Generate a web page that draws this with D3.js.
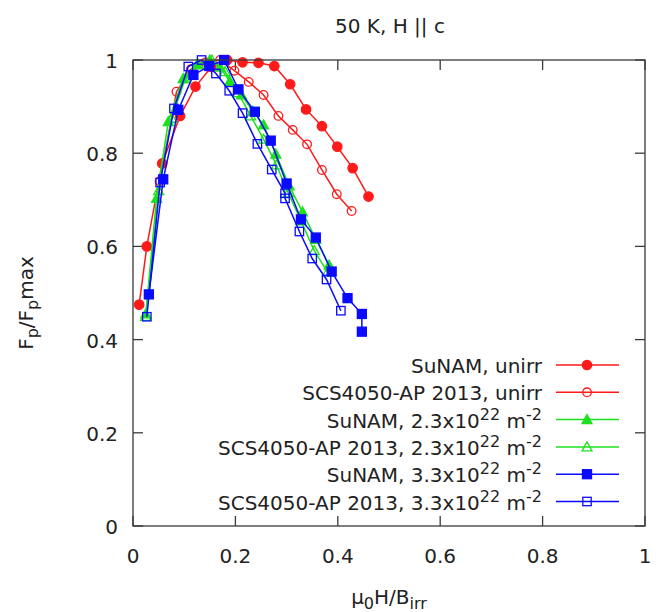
<!DOCTYPE html>
<html>
<head>
<meta charset="utf-8">
<script src="https://cdn.jsdelivr.net/npm/d3@7/dist/d3.min.js"></script>
<style>
  html, body { margin: 0; padding: 0; background: #fff; }
  svg { display: block; font-family: "DejaVu Sans", Verdana, sans-serif; }
</style>
</head>
<body>
<svg id="chart" width="667" height="612"></svg>
<script>
// ---- data ----
const xTicks = [0, 0.2, 0.4, 0.6, 0.8, 1];
const yTicks = [0, 0.2, 0.4, 0.6, 0.8, 1];
const xTickLabels = ["0", "0.2", "0.4", "0.6", "0.8", "1"];
const yTickLabels = ["0", "0.2", "0.4", "0.6", "0.8", "1"];

const sunamUnirrX = [0.012, 0.027, 0.057, 0.092, 0.122, 0.153, 0.184, 0.214, 0.245, 0.276, 0.307, 0.338, 0.369, 0.399, 0.429, 0.460];
const sunamUnirrY = [0.475, 0.600, 0.778, 0.880, 0.943, 0.985, 1.000, 0.995, 0.994, 0.987, 0.948, 0.894, 0.858, 0.814, 0.768, 0.707];

const scsUnirrX = [0.052, 0.085, 0.113, 0.142, 0.170, 0.198, 0.226, 0.255, 0.284, 0.312, 0.340, 0.369, 0.398, 0.427];
const scsUnirrY = [0.740, 0.932, 0.980, 0.995, 1.000, 0.977, 0.953, 0.925, 0.880, 0.850, 0.819, 0.764, 0.712, 0.676];

const sunam23X = [0.025, 0.046, 0.069, 0.098, 0.125, 0.150, 0.170, 0.189, 0.212, 0.234, 0.255, 0.279, 0.305, 0.331, 0.357, 0.383];
const sunam23Y = [0.455, 0.703, 0.868, 0.960, 0.990, 1.000, 0.985, 0.954, 0.925, 0.890, 0.861, 0.798, 0.730, 0.674, 0.615, 0.560];

const scs23X = [0.025, 0.050, 0.0755, 0.102, 0.128, 0.154, 0.180, 0.205, 0.230, 0.255, 0.280, 0.303, 0.328, 0.354, 0.380];
const scs23Y = [0.450, 0.720, 0.875, 0.960, 0.990, 1.000, 0.975, 0.930, 0.880, 0.830, 0.775, 0.715, 0.655, 0.591, 0.545];

const sunam33X = [0.031, 0.059, 0.0885, 0.118, 0.149, 0.178, 0.206, 0.238, 0.269, 0.300, 0.328, 0.357, 0.388, 0.419, 0.447, 0.447];
const sunam33Y = [0.497, 0.744, 0.893, 0.968, 0.987, 1.000, 0.937, 0.889, 0.827, 0.735, 0.658, 0.619, 0.546, 0.489, 0.455, 0.417];

const scs33X = [0.027, 0.053, 0.080, 0.108, 0.134, 0.162, 0.188, 0.214, 0.243, 0.271, 0.297, 0.297, 0.325, 0.350, 0.378, 0.406];
const scs33Y = [0.449, 0.737, 0.896, 0.986, 1.000, 0.971, 0.934, 0.886, 0.820, 0.765, 0.714, 0.703, 0.632, 0.574, 0.529, 0.462];

const seriesNames = ["SuNAM, unirr", "SCS4050-AP 2013, unirr", "SuNAM, 2.3x10|22| m|-2", "SCS4050-AP 2013, 2.3x10|22| m|-2", "SuNAM, 3.3x10|22| m|-2", "SCS4050-AP 2013, 3.3x10|22| m|-2"];
const seriesColors = ["#ff1a1a", "#ff1a1a", "#1ee01e", "#1ee01e", "#0a0aff", "#0a0aff"];
const seriesShapes = ["circle", "circle", "triangle", "triangle", "square", "square"];
const seriesFilled = [true, false, true, false, true, false];
const seriesX = [sunamUnirrX, scsUnirrX, sunam23X, scs23X, sunam33X, scs33X];
const seriesY = [sunamUnirrY, scsUnirrY, sunam23Y, scs23Y, sunam33Y, scs33Y];

// ---- layout ----
const svg = d3.select("#chart");
const L = 133, R = 645, T = 60, B = 526;
const x = d3.scaleLinear().domain([0, 1]).range([L, R]);
const y = d3.scaleLinear().domain([0, 1]).range([B, T]);
const axisColor = "#3a3a3a";
const textColor = "#222";
const fs = 20;

// title
svg.append("text").attr("x", 390).attr("y", 33).attr("text-anchor", "middle")
  .attr("font-size", fs).attr("fill", textColor).text("50 K, H || c");

// ticks (inward, mirrored)
const gT = svg.append("g").attr("stroke", axisColor).attr("stroke-width", 1.3);
xTicks.forEach(v => {
  gT.append("line").attr("x1", x(v)).attr("x2", x(v)).attr("y1", B).attr("y2", B - 10);
  gT.append("line").attr("x1", x(v)).attr("x2", x(v)).attr("y1", T).attr("y2", T + 10);
});
yTicks.forEach(v => {
  gT.append("line").attr("x1", L).attr("x2", L + 10).attr("y1", y(v)).attr("y2", y(v));
  gT.append("line").attr("x1", R).attr("x2", R - 10).attr("y1", y(v)).attr("y2", y(v));
});

// tick labels
xTicks.forEach((v, i) => {
  svg.append("text").attr("x", x(v)).attr("y", B + 37).attr("text-anchor", "middle")
    .attr("font-size", fs).attr("fill", textColor).text(xTickLabels[i]);
});
yTicks.forEach((v, i) => {
  svg.append("text").attr("x", L - 15).attr("y", y(v) + 8).attr("text-anchor", "end")
    .attr("font-size", fs).attr("fill", textColor).text(yTickLabels[i]);
});

// axis labels
const xl = svg.append("text").attr("x", x(0.5)).attr("y", 604).attr("text-anchor", "middle")
  .attr("font-size", fs).attr("fill", textColor);
xl.append("tspan").text("μ");
xl.append("tspan").attr("font-size", fs * 0.8).attr("dy", 5).text("0");
xl.append("tspan").attr("dy", -5).text("H/B");
xl.append("tspan").attr("font-size", fs * 0.8).attr("dy", 5).text("irr");

const yl = svg.append("text").attr("transform", "translate(33,303) rotate(-90)")
  .attr("text-anchor", "middle").attr("font-size", fs).attr("fill", textColor);
yl.append("tspan").text("F");
yl.append("tspan").attr("font-size", fs * 0.8).attr("dy", 5).text("p");
yl.append("tspan").attr("dy", -5).text("/F");
yl.append("tspan").attr("font-size", fs * 0.8).attr("dy", 5).text("p");
yl.append("tspan").attr("dy", -5).text("max");

// markers
function drawMarker(g, shape, cx, cy, color, filled) {
  const fill = filled ? color : "none";
  if (shape === "circle") {
    g.append("circle").attr("cx", cx).attr("cy", cy).attr("r", filled ? 4.7 : 4.3)
      .attr("fill", fill).attr("stroke", color).attr("stroke-width", 1.3);
  } else if (shape === "square") {
    const s = filled ? 9 : 8.4;
    g.append("rect").attr("x", cx - s / 2).attr("y", cy - s / 2).attr("width", s).attr("height", s)
      .attr("fill", fill).attr("stroke", color).attr("stroke-width", 1.3);
  } else {
    const h = 5;
    g.append("path").attr("d", `M${cx},${cy - h}L${cx + h},${cy + h * 0.8}L${cx - h},${cy + h * 0.8}Z`)
      .attr("fill", fill).attr("stroke", color).attr("stroke-width", 1.3);
  }
}

// series
const line = d3.line().x(d => x(d[0])).y(d => y(d[1]));
const plotG = svg.append("g");
seriesNames.forEach((name, i) => {
  const pts = seriesX[i].map((v, k) => [v, seriesY[i][k]]);
  const g = plotG.append("g");
  g.append("path").datum(pts).attr("d", line).attr("fill", "none")
    .attr("stroke", seriesColors[i]).attr("stroke-width", 1.5);
  pts.forEach(p => drawMarker(g, seriesShapes[i], x(p[0]), y(p[1]), seriesColors[i], seriesFilled[i]));
});

// frame
svg.append("rect").attr("x", L).attr("y", T).attr("width", R - L).attr("height", B - T)
  .attr("fill", "none").attr("stroke", axisColor).attr("stroke-width", 1.3);

// legend
const legY0 = 365, legDy = 27.3;
seriesNames.forEach((name, i) => {
  const yy = legY0 + i * legDy;
  const t = svg.append("text").attr("x", 542).attr("y", yy + 8).attr("text-anchor", "end")
    .attr("font-size", fs).attr("fill", textColor);
  const parts = name.split("|");
  parts.forEach((p, k) => {
    if (k % 2 === 1) {
      t.append("tspan").attr("font-size", fs * 0.8).attr("dy", -8).text(p);
    } else {
      const ts = t.append("tspan").text(p);
      if (k > 0) ts.attr("dy", 8);
    }
  });
  svg.append("line").attr("x1", 556).attr("x2", 619).attr("y1", yy).attr("y2", yy)
    .attr("stroke", seriesColors[i]).attr("stroke-width", 1.5);
  drawMarker(svg, seriesShapes[i], 587, yy, seriesColors[i], seriesFilled[i]);
});
</script>
</body>
</html>
